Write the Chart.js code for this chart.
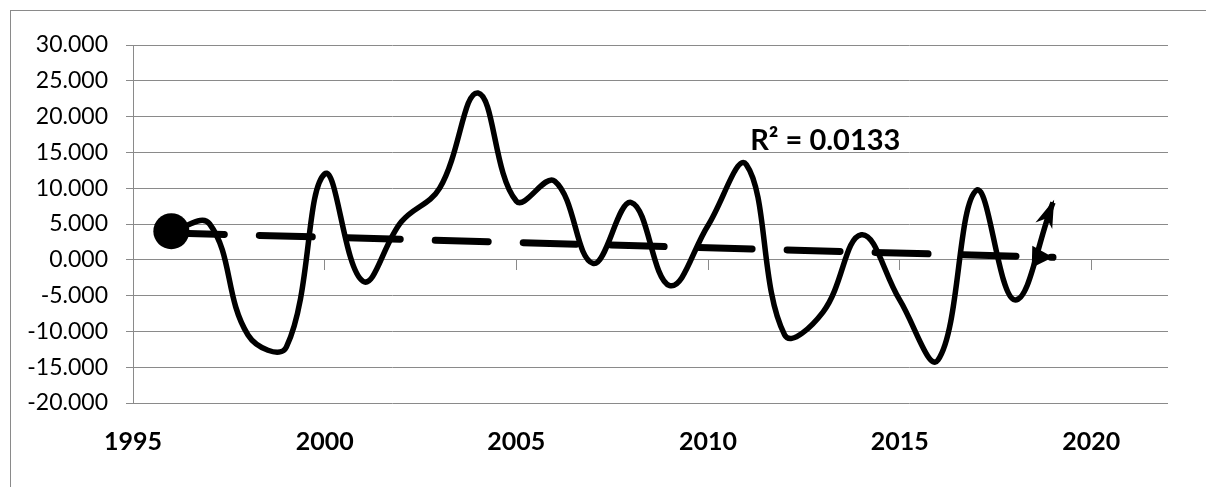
<!DOCTYPE html>
<html>
<head>
<meta charset="utf-8">
<script src="https://cdn.jsdelivr.net/npm/chart.js@4"></script>
<style>
  html, body { margin: 0; padding: 0; background: #fff; }
</style>
</head>
<body>
<canvas id="chartCanvas" width="1206" height="487"></canvas>
<script>
// values
var years = [1996, 1997, 1998, 1999, 2000, 2001, 2002, 2003, 2004, 2005, 2006, 2007,
             2008, 2009, 2010, 2011, 2012, 2013, 2014, 2015, 2016, 2017, 2018, 2019];
var values = [4.0, 5.0, -10.5, -12.2, 12.0, -3.0, 5.3, 10.0, 23.3, 8.2, 11.0, -0.5,
              8.0, -3.6, 4.8, 13.3, -10.5, -7.3, 3.5, -5.6, -14.0, 9.7, -5.6, 8.0];
var trendYears = [1996, 2019];
var trendValues = [3.75, 0.35];
var xTicks = [1995, 2000, 2005, 2010, 2015, 2020];
var yTicks = [-20, -15, -10, -5, 0, 5, 10, 15, 20, 25, 30];
var rSquaredText = 'R\u00b2 = 0.0133';

var GRID = '#8a8a8a';

function setTicks(list) {
  return function (scale) {
    scale.ticks = list.map(v => ({ value: v }));
  };
}

var frame = {
  id: 'frame',
  beforeDraw(chart) {
    var ctx = chart.ctx;
    ctx.save();
    ctx.fillStyle = '#fff';
    ctx.fillRect(0, 0, chart.width, chart.height);
    ctx.strokeStyle = GRID;
    ctx.lineWidth = 1;
    ctx.strokeRect(10.5, 10.5, chart.width, chart.height);
    ctx.restore();
  }
};

// arrow heads + R² text
var extras = {
  id: 'extras',
  afterDatasetsDraw(chart) {
    var ctx = chart.ctx;
    var x = chart.scales.x, y = chart.scales.y;

    function endOf(i) {
      var pts = chart.getDatasetMeta(i).data;
      var a = pts[pts.length - 2], b = pts[pts.length - 1];
      return { x: b.x, y: b.y, ang: Math.atan2(b.y - a.y, b.x - a.x) };
    }

    ctx.save();
    ctx.fillStyle = '#000';

    // stealth arrow on the data line
    var e = endOf(0);
    ctx.translate(e.x, e.y);
    ctx.rotate(e.ang);
    ctx.beginPath();
    ctx.moveTo(3, 0);
    ctx.lineTo(-25, -9);
    ctx.lineTo(-17, 0);
    ctx.lineTo(-25, 9);
    ctx.closePath();
    ctx.fill();
    ctx.setTransform(1, 0, 0, 1, 0, 0);

    // triangle on the trend line
    var t = endOf(1);
    ctx.translate(t.x, t.y);
    ctx.rotate(t.ang);
    ctx.beginPath();
    ctx.moveTo(0, 0);
    ctx.lineTo(-21, -11);
    ctx.lineTo(-21, 11);
    ctx.closePath();
    ctx.fill();
    ctx.setTransform(1, 0, 0, 1, 0, 0);

    ctx.font = 'bold 29px Lato';
    ctx.textBaseline = 'alphabetic';
    ctx.textAlign = 'left';
    ctx.fillText(rSquaredText, x.getPixelForValue(2011.1), y.getPixelForValue(15.3));
    ctx.restore();
  }
};

new Chart(
  document.getElementById('chartCanvas'),
  {
    type: 'line',
    plugins: [frame, extras],
    data: {
      datasets: [
        {
          label: 'Series',
          data: years.map((yr, i) => ({ x: yr, y: values[i] })),
          borderColor: '#000',
          borderWidth: 5.5,
          borderJoinStyle: 'round',
          tension: 0.4,
          pointRadius: ctx => ctx.dataIndex === 0 ? 18 : 0,
          pointBackgroundColor: '#000',
          pointBorderWidth: 0,
          fill: false
        },
        {
          label: 'Linear trend',
          data: trendYears.map((yr, i) => ({ x: yr, y: trendValues[i] })),
          borderColor: '#000',
          borderWidth: 7,
          borderDash: [53, 35],
          borderCapStyle: 'round',
          pointRadius: 0,
          tension: 0,
          fill: false
        }
      ]
    },
    options: {
      responsive: false,
      devicePixelRatio: 1,
      animation: false,
      events: [],
      layout: { padding: { top: 45, right: 38, left: 0, bottom: 0 } },
      plugins: {
        legend: { display: false },
        tooltip: { enabled: false }
      },
      scales: {
        x: {
          type: 'linear',
          position: 'bottom',
          min: 1995,
          max: 2022,
          afterBuildTicks: setTicks(xTicks),
          afterFit: s => { s.height = 84; },
          grid: { display: false },
          border: { display: false },
          ticks: {
            padding: 16,
            color: '#000',
            font: { family: 'Lato', size: 25, weight: 'bold' },
            callback: v => String(v)
          }
        },
        x2: {
          type: 'linear',
          position: { y: 0 },
          min: 1995,
          max: 2022,
          afterBuildTicks: setTicks(xTicks),
          grid: { drawOnChartArea: false, tickLength: 10, color: GRID },
          border: { display: true, color: GRID },
          ticks: { display: false }
        },
        y: {
          min: -20,
          max: 30,
          afterBuildTicks: setTicks(yTicks),
          afterFit: s => { s.width = 133; },
          grid: { color: GRID, tickLength: 7 },
          border: { display: true, color: GRID },
          ticks: {
            padding: 18,
            color: '#000',
            font: { family: 'Lato', size: 23 },
            callback: v => v.toFixed(3)
          }
        }
      }
    }
  }
);
</script>
</body>
</html>
